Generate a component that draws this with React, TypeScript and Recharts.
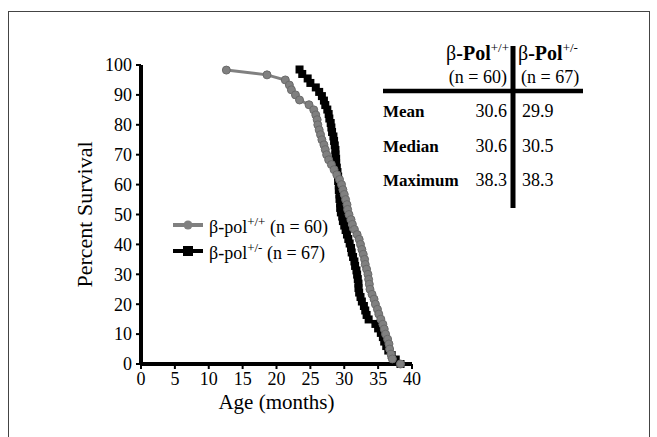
import { LineChart, Line, XAxis, YAxis, Legend, Label } from 'recharts'

const AGE_TICKS = [0, 5, 10, 15, 20, 25, 30, 35, 40]
const SURVIVAL_TICKS = [0, 10, 20, 30, 40, 50, 60, 70, 80, 90, 100]

// beta-pol +/+ (n = 60)
const WT_AGE = [
  12.6, 18.6, 21.3, 21.9, 22.2, 22.8, 23.4, 24.8, 25.5, 25.8,
  26.0, 26.1, 26.3, 26.5, 26.7, 27.0, 27.2, 27.4, 27.7, 28.1,
  28.5, 28.9, 29.3, 29.6, 29.8, 30.0, 30.2, 30.4, 30.5, 30.7,
  31.0, 31.2, 31.5, 31.9, 32.2, 32.4, 32.6, 32.8, 33.0, 33.1,
  33.3, 33.5, 33.6, 33.7, 33.8, 34.1, 34.4, 34.6, 34.9, 35.1,
  35.4, 35.7, 35.9, 36.1, 36.4, 36.6, 36.7, 36.9, 37.1, 38.3,
]
const WT_SURVIVAL = [
  98.3, 96.7, 95.0, 93.3, 91.7, 90.0, 88.3, 86.7, 85.0, 83.3,
  81.7, 80.0, 78.3, 76.7, 75.0, 73.3, 71.7, 70.0, 68.3, 66.7,
  65.0, 63.3, 61.7, 60.0, 58.3, 56.7, 55.0, 53.3, 51.7, 50.0,
  48.3, 46.7, 45.0, 43.3, 41.7, 40.0, 38.3, 36.7, 35.0, 33.3,
  31.7, 30.0, 28.3, 26.7, 25.0, 23.3, 21.7, 20.0, 18.3, 16.7,
  15.0, 13.3, 11.7, 10.0, 8.3, 6.7, 5.0, 3.3, 1.7, 0,
]

// beta-pol +/- (n = 67)
const HET_AGE = [
  23.4, 23.8, 24.6, 25.0, 25.8, 26.3, 26.7, 27.0, 27.2, 27.5,
  27.7, 27.8, 28.0, 28.1, 28.2, 28.4, 28.5, 28.6, 28.7, 28.7,
  28.8, 28.8, 28.9, 29.0, 29.1, 29.1, 29.2, 29.2, 29.3, 29.3,
  29.4, 29.4, 29.5, 29.7, 29.8, 30.0, 30.2, 30.4, 30.6, 30.8,
  31.0, 31.1, 31.3, 31.5, 31.6, 31.8, 31.9, 32.0, 32.1, 32.1,
  32.2, 32.4, 32.6, 32.9, 33.1, 33.3, 33.6, 34.6, 35.0, 35.4,
  35.7, 35.9, 36.2, 36.5, 37.0, 37.6, 38.3,
]
const HET_SURVIVAL = [
  98.5, 97.0, 95.5, 94.0, 92.5, 91.0, 89.6, 88.1, 86.6, 85.1,
  83.6, 82.1, 80.6, 79.1, 77.6, 76.1, 74.6, 73.1, 71.6, 70.1,
  68.7, 67.2, 65.7, 64.2, 62.7, 61.2, 59.7, 58.2, 56.7, 55.2,
  53.7, 52.2, 50.7, 49.3, 47.8, 46.3, 44.8, 43.3, 41.8, 40.3,
  38.8, 37.3, 35.8, 34.3, 32.8, 31.3, 29.9, 28.4, 26.9, 25.4,
  23.9, 22.4, 20.9, 19.4, 17.9, 16.4, 14.9, 13.4, 11.9, 10.4,
  9.0, 7.5, 6.0, 4.5, 3.0, 1.5, 0,
]

const STAT_NAMES = ['Mean', 'Median', 'Maximum']
const WT_STATS = ['30.6', '30.6', '38.3']
const HET_STATS = ['29.9', '30.5', '38.3']

const wtData = WT_AGE.map((age, i) => ({ age, survival: WT_SURVIVAL[i] }))
const hetData = HET_AGE.map((age, i) => ({ age, survival: HET_SURVIVAL[i] }))

const SERIF = '"Liberation Serif", "Times New Roman", Times, serif'
const GREY = '#808080'

const squareDot = (p: any) => (
  <rect key={`sq${p.index}`} x={p.cx - 4} y={p.cy - 4} width={8} height={8} fill="#000" />
)

function LegendBox() {
  const rows = [
    { color: GREY, sup: '+/+', n: 60, round: true },
    { color: '#000', sup: '+/-', n: 67, round: false },
  ]
  return (
    <div style={{ fontFamily: SERIF, fontSize: 18, color: '#000', lineHeight: 1 }}>
      {rows.map((r) => (
        <div key={r.sup} style={{ display: 'flex', alignItems: 'center', height: 26 }}>
          <svg width={36} height={12} style={{ marginRight: 2 }}>
            <line x1={2} y1={6} x2={32} y2={6} stroke={r.color} strokeWidth={4} />
            {r.round
              ? <circle cx={17} cy={6} r={4.5} fill={r.color} />
              : <rect x={12} y={1} width={10} height={10} fill={r.color} />}
          </svg>
          <span>
            β-pol<sup style={{ fontSize: 13 }}>{r.sup}</sup> (n = {r.n})
          </span>
        </div>
      ))}
    </div>
  )
}

function StatsTable() {
  const mid = 513
  return (
    <svg width={657} height={437} style={{ position: 'absolute', left: 0, top: 0, pointerEvents: 'none', fontFamily: SERIF }}
      fill="#000">
      <line x1={383} y1={91} x2={583} y2={91} stroke="#000" strokeWidth={4.5} />
      <line x1={mid} y1={46} x2={mid} y2={208} stroke="#000" strokeWidth={5} />
      <text x={509} y={60} textAnchor="end" fontSize={20}>
        β<tspan fontWeight="bold">-Pol</tspan><tspan fontSize={13} dy={-8}>+/+</tspan>
      </text>
      <text x={518} y={60} fontSize={20}>
        β<tspan fontWeight="bold">-Pol</tspan><tspan fontSize={13} dy={-8}>+/-</tspan>
      </text>
      <text x={507} y={83} textAnchor="end" fontSize={18}>(n = 60)</text>
      <text x={521} y={83} fontSize={18}>(n = 67)</text>
      {STAT_NAMES.map((name, i) => {
        const y = [117, 152, 186][i]
        return (
          <g key={name}>
            <text x={383} y={y} fontSize={17} fontWeight="bold">{name}</text>
            <text x={507} y={y} fontSize={18} textAnchor="end">{WT_STATS[i]}</text>
            <text x={522} y={y} fontSize={18}>{HET_STATS[i]}</text>
          </g>
        )
      })}
    </svg>
  )
}

const tickStyle = { fill: '#000', fontSize: 18, fontFamily: SERIF, style: { fontFamily: SERIF } }

export default function App() {
  return (
    <div style={{ position: 'absolute', left: 0, top: 0, width: 657, height: 437, background: '#fff', overflow: 'hidden', fontFamily: SERIF }}>
      <div style={{ position: 'absolute', left: 8, top: 11, width: 640, height: 440, border: '1px solid #444' }} />
      <LineChart width={657} height={437} margin={{ top: 65, right: 245, bottom: 43, left: 81 }}
        style={{ position: 'absolute', left: 0, top: 0, fontFamily: SERIF }}>
        <XAxis dataKey="age" type="number" domain={[0, 40]} ticks={AGE_TICKS} allowDataOverflow
          axisLine={{ stroke: '#000', strokeWidth: 4 }} tickLine={{ stroke: '#000', strokeWidth: 2 }}
          tickSize={5} tickMargin={3} height={30} tick={tickStyle}>
          <Label value="Age (months)" position="insideBottom" offset={-15}
            style={{ fill: '#000', fontSize: 21, fontFamily: SERIF }} />
        </XAxis>
        <YAxis dataKey="survival" type="number" domain={[0, 100]} ticks={SURVIVAL_TICKS} width={60}
          axisLine={{ stroke: '#000', strokeWidth: 4 }} tickLine={{ stroke: '#000', strokeWidth: 2 }}
          tickSize={5} tickMargin={4} tick={tickStyle}>
          <Label value="Percent  Survival" angle={-90} position="insideLeft" offset={3}
            style={{ fill: '#000', fontSize: 22, fontFamily: SERIF, textAnchor: 'middle' }} />
        </YAxis>
        <Legend layout="vertical" verticalAlign="middle" align="center" content={<LegendBox />}
          wrapperStyle={{ left: 171, top: 212, width: 200 }} />
        <Line data={hetData} dataKey="survival" stroke="#000" strokeWidth={3}
          dot={squareDot} activeDot={false} isAnimationActive={false} legendType="none" />
        <Line data={wtData} dataKey="survival" stroke={GREY} strokeWidth={3}
          dot={{ r: 4, fill: GREY, stroke: '#6a6a6a', strokeWidth: 1 }} activeDot={false}
          isAnimationActive={false} legendType="none" />
      </LineChart>
      <StatsTable />
    </div>
  )
}
